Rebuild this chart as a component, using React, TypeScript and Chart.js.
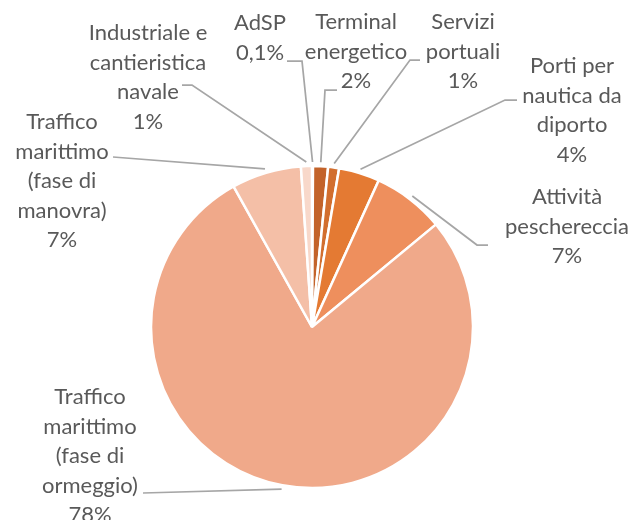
import React, { useEffect, useRef } from "react";
import { Chart, registerables } from "chart.js";

Chart.register(...registerables);

// ---- data ----
const categories = [
  "AdSP",
  "Terminal energetico",
  "Servizi portuali",
  "Porti per nautica da diporto",
  "Attività peschereccia",
  "Traffico marittimo (fase di ormeggio)",
  "Traffico marittimo (fase di manovra)",
  "Industriale e cantieristica navale",
];
const values = [0.1, 1.5, 1.1, 4.1, 7.2, 77.9, 7.0, 1.1];
const percentLabels = ["0,1%", "2%", "1%", "4%", "7%", "78%", "7%", "1%"];
const labelLines = [
  ["AdSP"],
  ["Terminal", "energetico"],
  ["Servizi", "portuali"],
  ["Porti per", "nautica da", "diporto"],
  ["Attività", "peschereccia"],
  ["Traffico", "marittimo", "(fase di", "ormeggio)"],
  ["Traffico", "marittimo", "(fase di", "manovra)"],
  ["Industriale e", "cantieristica", "navale"],
];

// ---- styles / layout ----
const colors = [
  "#9E4A1A",
  "#C3632A",
  "#D26E2E",
  "#E47A33",
  "#EE8F5D",
  "#F0A98A",
  "#F4BFA7",
  "#F8D8CA",
];
// text block centre (x, first-line y) and leader start/elbow points
const labelLayout: { x: number; y: number; leader: [number, number][] }[] = [
  { x: 260, y: 23, leader: [[287, 61], [302, 61]] },
  { x: 356, y: 22, leader: [[337, 90], [325, 90]] },
  { x: 463, y: 22, leader: [[420, 60], [410, 60]] },
  { x: 572, y: 66, leader: [[517, 100], [505, 100]] },
  { x: 567, y: 197, leader: [[488, 245], [477, 245]] },
  { x: 90, y: 397, leader: [[143, 493]] },
  { x: 62, y: 122, leader: [[113, 157]] },
  { x: 148, y: 33, leader: [[182, 85], [192, 85]] },
];
const LINE_H = 29.5;
const FONT = "22px Lato";
const TEXT_COLOR = "#595959";
const LEADER_COLOR = "#A6A6A6";

const labelPlugin = {
  id: "excelLabels",
  afterDatasetsDraw(chart: any) {
    const ctx = chart.ctx as CanvasRenderingContext2D;
    const meta = chart.getDatasetMeta(0);
    ctx.save();
    meta.data.forEach((arc: any, i: number) => {
      const { x, y, startAngle, endAngle, outerRadius } = arc.getProps(
        ["x", "y", "startAngle", "endAngle", "outerRadius"],
        true
      );
      const mid = (startAngle + endAngle) / 2;
      const px = x + Math.cos(mid) * (outerRadius + 4);
      const py = y + Math.sin(mid) * (outerRadius + 4);
      const lay = labelLayout[i];
      ctx.beginPath();
      ctx.strokeStyle = LEADER_COLOR;
      ctx.lineWidth = 1.75;
      ctx.moveTo(lay.leader[0][0], lay.leader[0][1]);
      for (let k = 1; k < lay.leader.length; k++) ctx.lineTo(lay.leader[k][0], lay.leader[k][1]);
      ctx.lineTo(px, py);
      ctx.stroke();

      const lines = [...labelLines[i], percentLabels[i]];
      ctx.font = FONT;
      ctx.fillStyle = TEXT_COLOR;
      ctx.textAlign = "center";
      ctx.textBaseline = "middle";
      lines.forEach((t, k) => ctx.fillText(t, lay.x, lay.y + k * LINE_H));
    });
    ctx.restore();
  },
};

export default function App() {
  const ref = useRef<HTMLCanvasElement>(null);
  useEffect(() => {
    if (!ref.current) return;
    const chart = new Chart(ref.current, {
      type: "pie",
      data: {
        labels: categories,
        datasets: [
          {
            data: values,
            backgroundColor: colors,
            borderColor: "#FFFFFF",
            borderWidth: 2.5,
          },
        ],
      },
      options: {
        responsive: false,
        animation: false,
        devicePixelRatio: 1,
        radius: 161,
        layout: { padding: { left: 100, right: 110, top: 150, bottom: 16 } },
        plugins: { legend: { display: false }, tooltip: { enabled: false } },
      } as any,
      plugins: [labelPlugin],
    });
    return () => chart.destroy();
  }, []);
  return (
    <div style={{ position: "fixed", left: 0, top: 0, width: 634, height: 520, background: "#fff" }}>
      <canvas ref={ref} width={634} height={520} />
    </div>
  );
}
